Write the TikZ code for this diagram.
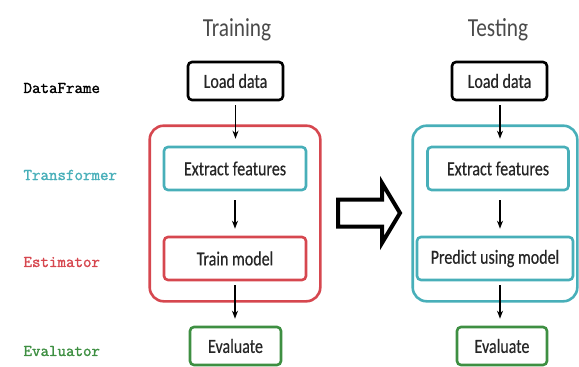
\documentclass[tikz,border=0pt]{standalone}
\usepackage{fontspec}
\setmainfont{Carlito}
\newfontfamily\boxfont[FakeStretch=0.8, FakeBold=0.5]{Carlito}
\newfontfamily\titlefont[FakeStretch=0.82]{Carlito}
\newfontfamily\codefont[FakeBold=1.6]{Latin Modern Mono}
\usetikzlibrary{arrows.meta, positioning, fit}

\definecolor{tealc}{HTML}{48AFB9}
\definecolor{redc}{HTML}{D6474F}
\definecolor{greenc}{HTML}{3E8F42}
\definecolor{titlec}{HTML}{4A4A4A}

\tikzset{
  stage/.style={draw, rounded corners=4pt, line width=2.6pt, align=center,
                font=\boxfont\fontsize{20}{22}\selectfont, text=black!85, inner sep=0pt},
  phase/.style={font=\titlefont\fontsize{26}{28}\selectfont, text=titlec},
  role/.style={anchor=west, font=\codefont\fontsize{16.5}{18}\selectfont},
  flow/.style={->, line width=1.4pt, shorten >=7pt, shorten <=4pt},
  group/.style={draw, rounded corners=14pt, line width=2.6pt}
}

\begin{document}
\begin{tikzpicture}[x=1pt, y=-1pt, >={Stealth[length=8pt, width=6pt]}]
  \useasboundingbox (0,0) rectangle (579,367);

  % Row labels
  \node[role, text=black]  (dfl)  at (20,88)  {DataFrame};
  \node[role, text=tealc]  (trl)  at (20,175) {Transformer};
  \node[role, text=redc]   (esl)  at (20,262) {Estimator};
  \node[role, text=greenc] (evl)  at (20,351) {Evaluator};

  % Training
  \node[phase] (train) at (237,30) {Training};
  \node[stage, minimum width=95pt, minimum height=38pt] (load1) at (235.5,81) {Load data};
  \node[stage, draw=tealc, minimum width=142pt, minimum height=43pt] (ext1) at (235,168.5) {Extract features};
  \node[stage, draw=redc, minimum width=142pt, minimum height=43pt] (fit1) at (235,258.5) {Train model};
  \node[stage, draw=greenc, minimum width=91pt, minimum height=38pt] (eval1) at (235.5,346) {Evaluate};
  \node[group, draw=redc, fit=(ext1)(fit1), inner xsep=13pt, inner ysep=20pt] (est1) {};

  \draw[flow] (load1.south) -- (load1.south |- ext1.north);
  \draw[flow, shorten <=9pt] (ext1.south) -- (ext1.south |- fit1.north);
  \draw[flow] (fit1.south) -- (fit1.south |- eval1.north);

  % Hollow arrow
  \draw[line width=4pt, miter limit=10] (338,199.5) -- (382,199.5) -- (382,183)
    -- (400,213) -- (382,243) -- (382,226.5) -- (338,226.5) -- cycle;

  % Testing
  \node[phase] (test) at (498,30) {Testing};
  \node[stage, minimum width=95pt, minimum height=38pt] (load2) at (499.5,81) {Load data};
  \node[stage, draw=tealc, minimum width=141pt, minimum height=43pt] (ext2) at (498,168.5) {Extract features};
  \node[stage, draw=tealc, minimum width=156pt, minimum height=43pt] (pred2) at (495,258.5) {Predict using model};
  \node[stage, draw=greenc, minimum width=90pt, minimum height=38pt] (eval2) at (502,346) {Evaluate};
  \node[group, draw=tealc, fit=(ext2)(pred2), inner xsep=3pt, inner ysep=20pt] (est2) {};

  \draw[flow] (load2.south -| 500,0) -- (ext2.north -| 500,0);
  \draw[flow, shorten <=9pt] (ext2.south -| 500,0) -- (pred2.north -| 500,0);
  \draw[flow] (pred2.south -| 500,0) -- (eval2.north -| 500,0);
\end{tikzpicture}
\end{document}
